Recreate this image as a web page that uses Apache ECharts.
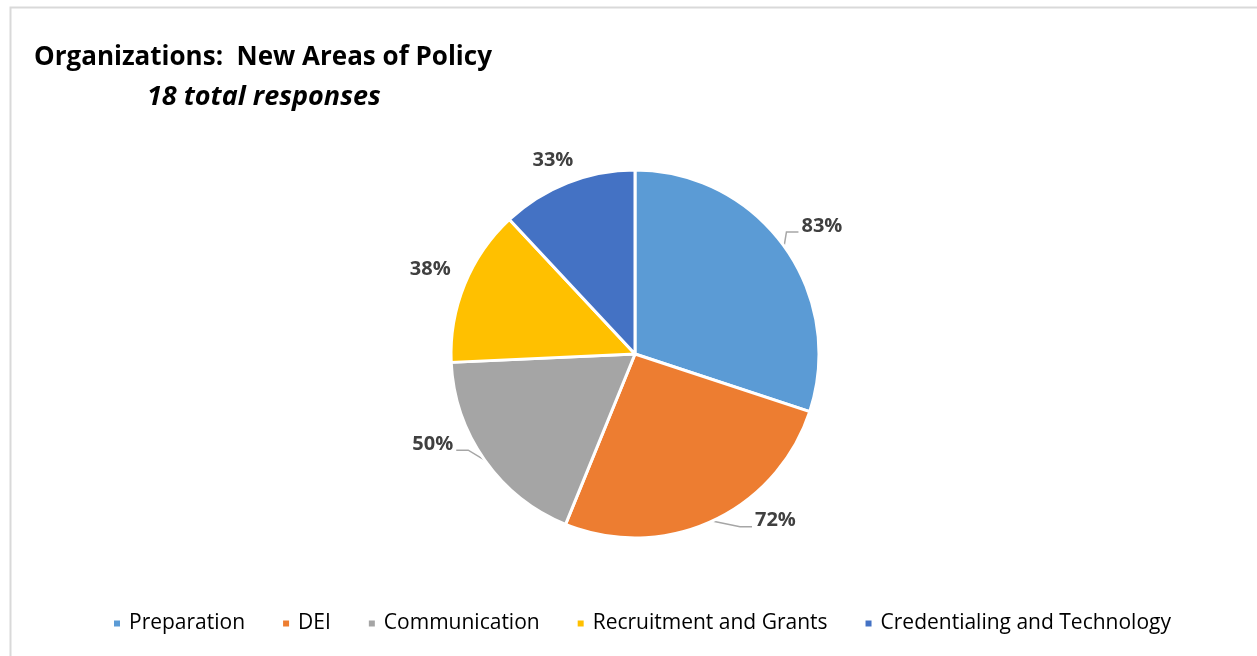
<!DOCTYPE html>
<html>
<head>
<meta charset="utf-8">
<script src="https://cdn.jsdelivr.net/npm/echarts@6/dist/echarts.min.js"></script>
<style>
  html, body { margin: 0; padding: 0; background: #ffffff; }
  #chart { width: 1257px; height: 656px; }
</style>
</head>
<body>
<div id="chart"></div>
<script>
// Share of organizations reporting each new policy area (18 responses)
const categories = ['Preparation', 'DEI', 'Communication', 'Recruitment and Grants', 'Credentialing and Technology'];
const percentValues = [83, 72, 50, 38, 33];
const sliceColors = ['#5B9BD5', '#ED7D31', '#A5A5A5', '#FFC000', '#4472C4'];

// Small nudges for the outside value labels, and which ones keep a leader line
const labelNudges = [[-9, -12], [22, -13], [-5, -24], [14, -10], [26, -10]];
const showLeader = [true, true, true, false, false];

const chart = echarts.init(document.getElementById('chart'), null, { renderer: 'canvas' });

const pieData = categories.map((name, i) => ({
  name: name,
  value: percentValues[i],
  itemStyle: { color: sliceColors[i] },
  labelLine: { show: showLeader[i] }
}));

chart.setOption({
  backgroundColor: '#ffffff',
  animation: false,
  graphic: [
    {
      type: 'rect',
      shape: { x: 10.5, y: 7.5, width: 1300, height: 700 },
      style: { fill: 'none', stroke: '#d9d9d9', lineWidth: 2 },
      silent: true
    }
  ],
  title: [
    {
      text: 'Organizations:  New Areas of Policy',
      left: 29,
      top: 40,
      textStyle: { fontFamily: 'Open Sans', fontWeight: 'bold', fontSize: 26, color: '#000000' }
    },
    {
      text: '18 total responses',
      left: 142,
      top: 79,
      textStyle: { fontFamily: 'Open Sans', fontWeight: 'bold', fontStyle: 'italic', fontSize: 27, color: '#000000' }
    }
  ],
  legend: {
    bottom: 17,
    left: 107,
    icon: 'rect',
    itemWidth: 8,
    itemHeight: 8,
    itemGap: 36,
    textStyle: { fontFamily: 'Open Sans', fontSize: 21, color: '#000000', padding: [0, 0, 0, 3] },
    data: categories
  },
  series: [
    {
      type: 'pie',
      center: [635, 354],
      radius: [0, 184],
      startAngle: 90,
      clockwise: true,
      avoidLabelOverlap: false,
      itemStyle: { borderColor: '#ffffff', borderWidth: 3 },
      label: {
        show: true,
        position: 'outside',
        formatter: '{c}%',
        fontFamily: 'Open Sans',
        fontWeight: 'bold',
        fontSize: 20,
        color: '#404040',
        distanceToLabelLine: 3
      },
      labelLine: {
        show: true,
        length: 14,
        length2: 12,
        lineStyle: { color: '#a6a6a6', width: 1.5 }
      },
      labelLayout: function (params) {
        const n = labelNudges[params.dataIndex];
        const out = { dx: n[0], dy: n[1] };
        const pts = params.labelLinePoints;
        if (pts && pts.length === 3) {
          // keep the line anchored on the slice edge, move its elbow and end with the label
          out.labelLinePoints = [
            [pts[0][0], pts[0][1]],
            [pts[1][0] + n[0], pts[1][1] + n[1] + 6],
            [pts[2][0] + n[0], pts[2][1] + n[1] + 6]
          ];
        }
        return out;
      },
      emphasis: { disabled: true },
      data: pieData
    }
  ]
});
</script>
</body>
</html>
